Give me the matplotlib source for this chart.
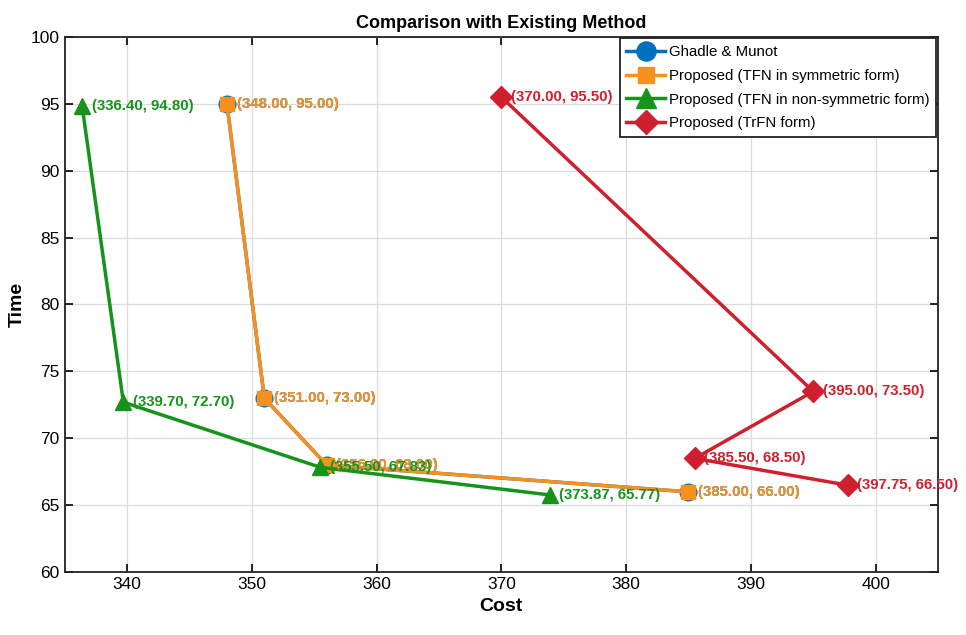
import matplotlib

matplotlib.use("Agg")
import matplotlib.pyplot as plt

# --- data ---
ghadle_cost = [348.00, 351.00, 356.00, 385.00]
ghadle_time = [95.00, 73.00, 68.00, 66.00]

sym_cost = [348.00, 351.00, 356.00, 385.00]
sym_time = [95.00, 73.00, 68.00, 66.00]

nonsym_cost = [336.40, 339.70, 355.50, 373.87]
nonsym_time = [94.80, 72.70, 67.83, 65.77]

trfn_cost = [370.00, 395.00, 385.50, 397.75]
trfn_time = [95.50, 73.50, 68.50, 66.50]

BLUE = "#0072BD"
ORANGE = "#F7901E"
GREEN = "#16931A"
RED = "#D01F2E"

plt.rcParams["font.family"] = ["Liberation Sans", "DejaVu Sans"]

fig = plt.figure(figsize=(9.66, 6.35), dpi=100)
ax = fig.add_axes([0.067, 0.099, 0.904, 0.843])

series = [
    (ghadle_cost, ghadle_time, BLUE, "o", 12, "Ghadle & Munot"),
    (sym_cost, sym_time, ORANGE, "s", 10, "Proposed (TFN in symmetric form)"),
    (nonsym_cost, nonsym_time, GREEN, "^", 12, "Proposed (TFN in non-symmetric form)"),
    (trfn_cost, trfn_time, RED, "D", 11, "Proposed (TrFN form)"),
]

for xs, ys, col, mk, ms, lab in series:
    ax.plot(xs, ys, "-", color=col, lw=2.5, marker=mk, ms=ms, label=lab, zorder=3)
    for x, y in zip(xs, ys):
        ax.annotate(f"({x:.2f}, {y:.2f})", (x, y), textcoords="offset points",
                    xytext=(7, 0), ha="left", va="center", fontsize=10.8,
                    fontweight="bold", color=col, zorder=4)

ax.set_xlim(335, 405)
ax.set_ylim(60, 100)
ax.set_xticks(range(340, 401, 10))
ax.set_yticks(range(60, 101, 5))
ax.tick_params(direction="in", length=6, width=1.2, labelsize=12.5, top=True, right=True,
               labeltop=False, labelright=False)
ax.grid(True, color="#dcdcdc", lw=0.9, zorder=0)
ax.set_axisbelow(True)
for sp in ax.spines.values():
    sp.set_linewidth(1.3)
    sp.set_color("#222222")

ax.set_xlabel("Cost", fontsize=14, fontweight="bold")
ax.set_ylabel("Time", fontsize=14, fontweight="bold")
ax.set_title("Comparison with Existing Method", fontsize=13, fontweight="bold", pad=6)

leg = ax.legend(loc="upper right", fontsize=10.8, fancybox=False, framealpha=1,
                edgecolor="#222222", borderaxespad=0.1, handlelength=2.6,
                handletextpad=0.25, labelspacing=0.65, borderpad=0.45,
                markerscale=1.15)
leg.get_frame().set_linewidth(1.3)
leg.set_zorder(5)

fig.savefig("out.png", dpi=100)
